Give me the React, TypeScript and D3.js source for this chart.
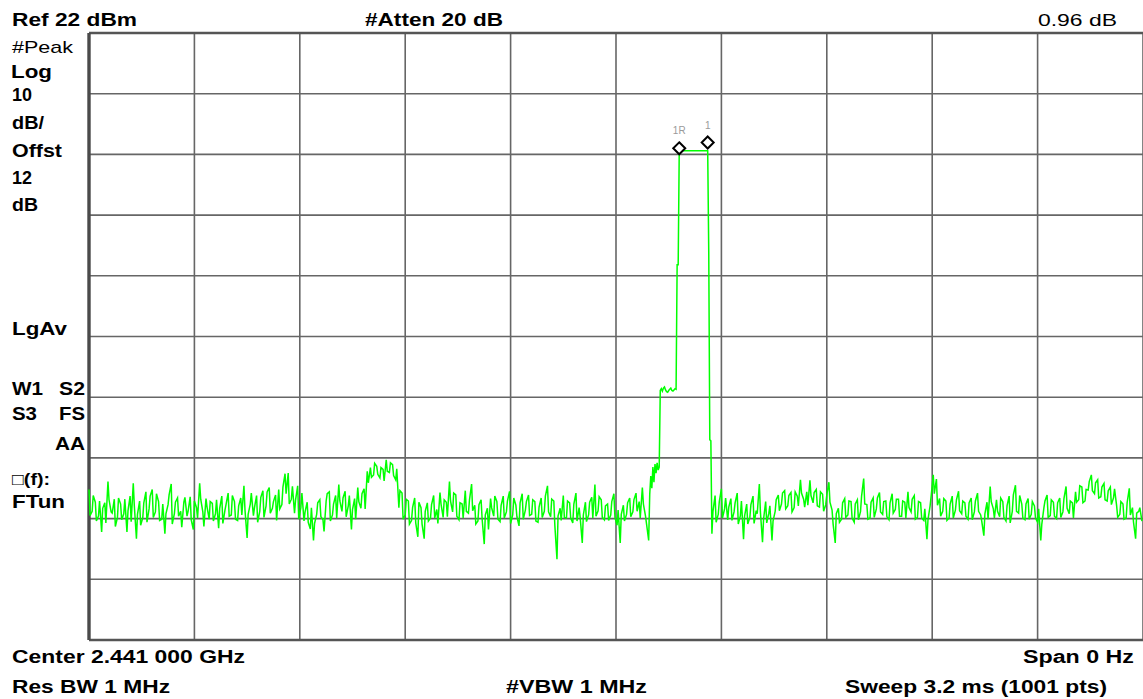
import React from "react";
import * as d3 from "d3";

// ---- data ----
const refLevel = 22; // dBm
const dbPerDiv = 10;
const numPoints = 1001;

// noise before the burst: value at trace points 3k
const noiseLeft: number[] = [
  -53.2, -56.8, -55.3, -57.6, -60.2, -55.4, -51.9, -56.9, -54.8, -57.8,
  -55.6, -57.2, -60.2, -54.3, -52.2, -61.3, -55.1, -57.9, -53.6, -56.4,
  -53.2, -56.9, -55.2, -58.1, -60.5, -55.7, -52.3, -57.2, -54.6, -56.8,
  -55.3, -57.6, -54.4, -59.8, -56.2, -52.2, -56.9, -54.7, -58.1, -55.5,
  -57.2, -59.6, -54.3, -56.6, -53.8, -57.4, -55.2, -58.3, -54.6, -52.6,
  -61.2, -55.6, -57.5, -54.2, -56.8, -53.4, -55.9, -52.9, -56.3, -54.1,
  -53.2, -55.7, -50.6, -50.5, -54.8, -57.1, -52.6, -56.2, -58.4, -55.3,
  -59.7, -61.6, -57.3, -54.9, -58.2, -55.1, -53.6, -57.4, -54.2, -52.4,
  -56.8, -53.5, -55.9, -59.8, -54.7, -52.9, -56.3, -53.1, -50.2, -49.6,
  -50.8, -49.4, -51.3, -49.9, -48.3, -50.4, -49.1, -51.6, -56.2, -53.8,
  -57.4, -55.1, -58.3, -54.6, -61.0, -56.2, -61.3, -55.4, -57.9, -54.2,
  -56.5, -53.7, -57.8, -55.3, -51.9, -56.9, -54.1, -58.2, -55.6, -53.4,
  -57.1, -52.3, -55.8, -58.4, -54.9, -62.2, -56.3, -54.7, -57.6, -55.2,
  -58.5, -54.3, -56.9, -53.5, -57.4, -55.8, -59.2, -53.9, -56.6, -54.1,
  -57.3, -55.2, -58.6, -54.6, -56.8, -52.6, -57.7, -55.1, -64.7, -56.3,
  -54.2, -57.9, -55.4, -58.7, -53.8, -56.2, -62.0, -55.3, -57.4, -54.5,
  -52.4, -56.7, -54.9, -58.2, -55.6, -57.4, -53.9, -59.1, -62.0, -55.8,
  -57.3, -54.6, -56.9, -53.8, -55.2, -52.9, -57.6, -61.6,
];
// noise before the burst: value at trace points 3k+1
const noiseLeftMid: number[] = [
  -57.5, -54.2, -58.4, -55.1, -56.3, -58.7, -54.9, -57.1, -59.3, -54.6,
  -58.2, -54.8, -56.7, -58.5, -55.9, -57.3, -59.1, -55.4, -58.6, -54.3,
  -57.8, -53.9, -58.3, -55.6, -57.2, -54.1, -58.9, -55.3, -57.6, -59.4,
  -54.5, -56.8, -58.2, -55.1, -57.9, -54.8, -59.3, -56.1, -55.2, -58.4,
  -54.9, -56.3, -58.8, -55.7, -57.6, -54.2, -58.1, -55.9, -57.4, -56.6,
  -57.3, -53.8, -56.2, -58.6, -54.5, -57.8, -53.6, -57.1, -55.2, -58.3,
  -56.4, -52.8, -53.9, -55.6, -52.7, -54.9, -58.1, -53.8, -56.9, -58.6,
  -56.2, -58.8, -55.4, -57.7, -60.1, -53.9, -58.4, -55.6, -57.9, -55.1,
  -54.6, -57.7, -54.2, -56.5, -58.1, -55.2, -53.9, -56.4, -52.1, -51.2,
  -48.9, -50.7, -49.6, -51.8, -50.2, -48.8, -50.9, -49.8, -53.4, -58.1,
  -54.8, -58.9, -56.2, -58.7, -55.3, -58.9, -56.8, -58.4, -55.7, -57.9,
  -58.8, -55.6, -54.9, -57.7, -55.1, -53.8, -57.6, -55.4, -57.9, -56.8,
  -54.9, -56.7, -58.9, -55.7, -58.1, -57.4, -59.8, -56.2, -54.3, -58.1,
  -55.8, -57.9, -55.1, -58.8, -54.6, -57.7, -55.4, -58.1, -55.2, -57.5,
  -54.9, -58.4, -56.1, -57.8, -54.3, -56.9, -54.8, -59.2, -57.6, -58.3,
  -57.8, -55.1, -57.9, -55.6, -58.4, -57.8, -57.4, -58.5, -55.3, -57.9,
  -57.6, -54.4, -57.8, -55.9, -58.3, -55.2, -57.8, -56.6, -57.3, -58.4,
  -55.4, -57.7, -54.9, -56.8, -57.9, -55.6, -58.9,
];

// the burst: trace point index and level
const burstIdx: number[] = [
  532, 533, 534, 535, 536, 537, 538, 539, 540, 541, 542, 543, 544, 545, 546,
  547, 548, 549, 550, 551, 552, 553, 554, 555, 556, 557, 558, 559, 560, 570,
  580, 587, 588, 589, 590,
];
const burstDbm: number[] = [
  -54, -51, -53, -49.5, -52, -49, -50.5, -48.8, -50, -49.5, -36.9, -36.6, -37,
  -36.5, -36.3, -36.8, -37.1, -37.2, -36.9, -36.7, -36.5, -36.9, -37, -36.8,
  -36.6, -36.7, -16.2, -16.2, 2.6, 2.6, 2.6, 2.6, -14.1, -45, -45.2,
];

// noise after the burst: value at trace points 591 + 3k
const noiseRightStart = 591;
const noiseRight: number[] = [
  -60.5, -54.2, -57.3, -53.1, -56.4, -58.2, -54.7, -56.9, -53.8, -57.5,
  -61.4, -55.6, -57.8, -54.3, -56.7, -52.3, -61.9, -55.2, -57.1, -61.6,
  -56.8, -54.1, -55.6, -53.4, -55.9, -53.7, -56.2, -54.3, -51.6, -54.8,
  -53.6, -51.7, -55.4, -53.2, -56.1, -54.0, -55.7, -52.0, -56.6, -62.0,
  -56.3, -58.1, -54.7, -57.4, -55.2, -58.6, -54.9, -56.8, -51.4, -55.7,
  -57.9, -54.6, -56.4, -53.7, -57.3, -55.1, -58.2, -53.9, -56.5, -54.8,
  -57.6, -55.3, -53.6, -56.9, -54.2, -57.8, -55.4, -58.3, -61.4, -55.9,
  -50.8, -51.5, -54.7, -56.8, -55.1, -57.9, -54.3, -56.6, -53.5, -57.2,
  -55.4, -58.1, -54.6, -56.9, -53.8, -57.4, -60.8, -55.3, -52.7, -56.4,
  -54.9, -57.7, -55.2, -58.4, -54.3, -56.8, -52.5, -57.1, -55.6, -58.2,
  -54.7, -57.3, -55.9, -58.6, -61.6, -56.2, -54.1, -57.5, -55.3, -58.0,
  -54.6, -56.9, -52.7, -57.2, -55.4, -53.6, -54.9, -52.8, -55.1, -53.3,
  -50.8, -53.9, -51.6, -54.4, -52.2, -55.1, -52.8, -54.6, -55.9, -57.3,
  -55.6, -57.9, -53.0, -56.2, -61.3, -56.8, -58.4,
];
// noise after the burst: value at trace points 592 + 3k
const noiseRightMid: number[] = [
  -56.8, -58.6, -55.2, -57.9, -54.6, -56.1, -58.3, -55.4, -58.9, -55.1,
  -57.6, -58.9, -55.7, -58.8, -57.2, -56.9, -58.1, -58.7, -55.9, -58.4,
  -54.9, -56.7, -53.8, -56.4, -54.2, -56.9, -53.6, -55.9, -53.8, -56.1,
  -55.8, -54.2, -53.7, -55.9, -53.6, -56.8, -54.1, -55.3, -58.9, -57.2,
  -58.6, -55.4, -57.8, -55.1, -57.9, -55.6, -58.2, -54.3, -55.6, -58.1,
  -55.3, -57.8, -54.6, -56.9, -55.2, -57.7, -55.4, -57.1, -54.8, -57.6,
  -55.1, -57.9, -56.2, -54.8, -58.1, -55.2, -57.9, -56.4, -58.2, -54.3,
  -53.9, -55.8, -57.6, -54.7, -58.3, -55.6, -57.9, -54.9, -56.7, -55.1,
  -57.6, -55.4, -58.2, -55.1, -56.8, -58.4, -57.2, -58.1, -55.2, -57.9,
  -56.8, -54.6, -57.8, -55.9, -58.7, -54.1, -56.8, -54.2, -57.9, -55.6,
  -58.1, -55.2, -57.9, -56.4, -58.9, -55.1, -57.8, -54.9, -57.6, -55.4,
  -57.8, -54.7, -56.3, -55.1, -57.9, -55.3, -52.6, -55.4, -53.2, -51.9,
  -53.4, -52.1, -54.6, -52.8, -54.9, -53.4, -55.7, -53.1, -57.8, -55.2,
  -58.1, -55.3, -57.4, -58.6, -57.1, -56.2,
];

// markers: name, trace point, level
const markerNames = ["1R", "1"];
const markerIdx = [560, 587];
const markerDbm = [3.0, 3.96];

const headerTexts = ["Ref 22 dBm", "#Atten 20 dB", "0.96 dB"];
const sideTexts = ["#Peak", "Log", "10", "dB/", "Offst", "12", "dB", "LgAv", "W1", "S2", "S3", "FS", "AA", "\u25A1(f):", "FTun"];
const footerTexts = ["Center 2.441 000 GHz", "Span 0 Hz", "Res BW 1 MHz", "#VBW 1 MHz", "Sweep 3.2 ms (1001 pts)"];

// ---- layout ----
const W = 1143;
const H = 699;
const plot = { left: 89, right: 1143, top: 33, bottom: 640 };
const FONT = "'Liberation Sans', Arial, Helvetica, sans-serif";

type Lbl = { t: string; x: number; y: number; w: number; bold: boolean; size: number };

export default function App() {
  const x = d3.scaleLinear().domain([0, numPoints - 1]).range([plot.left, plot.right]);
  const y = d3
    .scaleLinear()
    .domain([refLevel - 10 * dbPerDiv, refLevel])
    .range([plot.bottom, plot.top]);

  const raw: [number, number][] = [
    ...noiseLeft.map((v, k) => [k * 3, v] as [number, number]),
    ...noiseLeftMid.map((v, k) => [k * 3 + 1, v] as [number, number]),
    ...burstIdx.map((i, j) => [i, burstDbm[j]] as [number, number]),
    ...noiseRight.map((v, k) => [noiseRightStart + 3 * k, v] as [number, number]),
    ...noiseRightMid.map((v, k) => [noiseRightStart + 1 + 3 * k, v] as [number, number]),
  ];
  const pts = d3.sort(raw, (d) => d[0]);
  const line = d3
    .line<[number, number]>()
    .x((d) => x(d[0]))
    .y((d) => y(d[1]));

  const vTicks = d3.range(0, numPoints, (numPoints - 1) / 10);
  const hTicks = d3.range(refLevel - 100, refLevel + 0.01, dbPerDiv);

  const labels: Lbl[] = [
    { t: headerTexts[0], x: 12, y: 26, w: 125, bold: true, size: 18 },
    { t: headerTexts[1], x: 365, y: 26, w: 138, bold: true, size: 18 },
    { t: headerTexts[2], x: 1038, y: 26, w: 79, bold: false, size: 17 },
    { t: sideTexts[0], x: 12, y: 53, w: 61, bold: false, size: 17 },
    { t: sideTexts[1], x: 11, y: 78, w: 41, bold: true, size: 18 },
    { t: sideTexts[2], x: 12, y: 101, w: 20, bold: true, size: 18 },
    { t: sideTexts[3], x: 12, y: 129, w: 32, bold: true, size: 18 },
    { t: sideTexts[4], x: 12, y: 157, w: 50, bold: true, size: 18 },
    { t: sideTexts[5], x: 12, y: 184, w: 20, bold: true, size: 18 },
    { t: sideTexts[6], x: 12, y: 211, w: 26, bold: true, size: 18 },
    { t: sideTexts[7], x: 12, y: 335, w: 55, bold: true, size: 18 },
    { t: sideTexts[8], x: 12, y: 395, w: 31, bold: true, size: 18 },
    { t: sideTexts[9], x: 59, y: 395, w: 26, bold: true, size: 18 },
    { t: sideTexts[10], x: 12, y: 420, w: 25, bold: true, size: 18 },
    { t: sideTexts[11], x: 59, y: 420, w: 26, bold: true, size: 18 },
    { t: sideTexts[12], x: 55, y: 450, w: 30, bold: true, size: 18 },
    { t: sideTexts[13], x: 12, y: 485, w: 38, bold: true, size: 17 },
    { t: sideTexts[14], x: 12, y: 508, w: 53, bold: true, size: 18 },
    { t: footerTexts[0], x: 12, y: 663, w: 233, bold: true, size: 18 },
    { t: footerTexts[1], x: 1023, y: 663, w: 111, bold: true, size: 18 },
    { t: footerTexts[2], x: 12, y: 693, w: 158, bold: true, size: 18 },
    { t: footerTexts[3], x: 506, y: 693, w: 141, bold: true, size: 18 },
    { t: footerTexts[4], x: 845, y: 693, w: 262, bold: true, size: 18 },
  ];

  return (
    <svg
      width={W}
      height={H}
      viewBox={`0 0 ${W} ${H}`}
      style={{ position: "absolute", left: 0, top: 0, background: "#fff", display: "block" }}
    >
      <rect x={0} y={0} width={W} height={H} fill="#fff" />
      {/* grid */}
      {vTicks.map((t, i) => (
        <line key={"v" + i} x1={x(t)} x2={x(t)} y1={plot.top} y2={plot.bottom} stroke="#666" strokeWidth={1.6} />
      ))}
      {hTicks.map((t, i) => (
        <line key={"h" + i} x1={plot.left} x2={plot.right} y1={y(t)} y2={y(t)} stroke="#666" strokeWidth={1.6} />
      ))}
      {/* frame */}
      <line x1={plot.left} x2={plot.right} y1={plot.top} y2={plot.top} stroke="#555" strokeWidth={2.4} />
      <line x1={plot.left} x2={plot.right} y1={plot.bottom} y2={plot.bottom} stroke="#555" strokeWidth={2.6} />
      <line x1={plot.left} x2={plot.left} y1={plot.top} y2={plot.bottom} stroke="#4a4a4a" strokeWidth={3.4} />
      {/* trace */}
      <path d={line(pts) || ""} fill="none" stroke="#00ff00" strokeWidth={1.5} />
      {/* markers */}
      {markerNames.map((m, i) => {
        const cx = x(markerIdx[i]);
        const cy = y(markerDbm[i]);
        const r = 6;
        return (
          <g key={m}>
            <path
              d={`M${cx},${cy - r}L${cx + r},${cy}L${cx},${cy + r}L${cx - r},${cy}Z`}
              fill="#fff"
              stroke="#000"
              strokeWidth={2}
            />
            <text x={cx} y={cy - 14} textAnchor="middle" fontFamily={FONT} fontSize={10} fill="#9a9a9a">
              {m}
            </text>
          </g>
        );
      })}
      {/* texts */}
      {labels.map((l, i) => (
        <text
          key={i}
          x={l.x}
          y={l.y}
          fontFamily={FONT}
          fontSize={l.size}
          fontWeight={l.bold ? "bold" : "normal"}
          fill="#000"
          textLength={l.w}
          lengthAdjust="spacingAndGlyphs"
        >
          {l.t}
        </text>
      ))}
    </svg>
  );
}
